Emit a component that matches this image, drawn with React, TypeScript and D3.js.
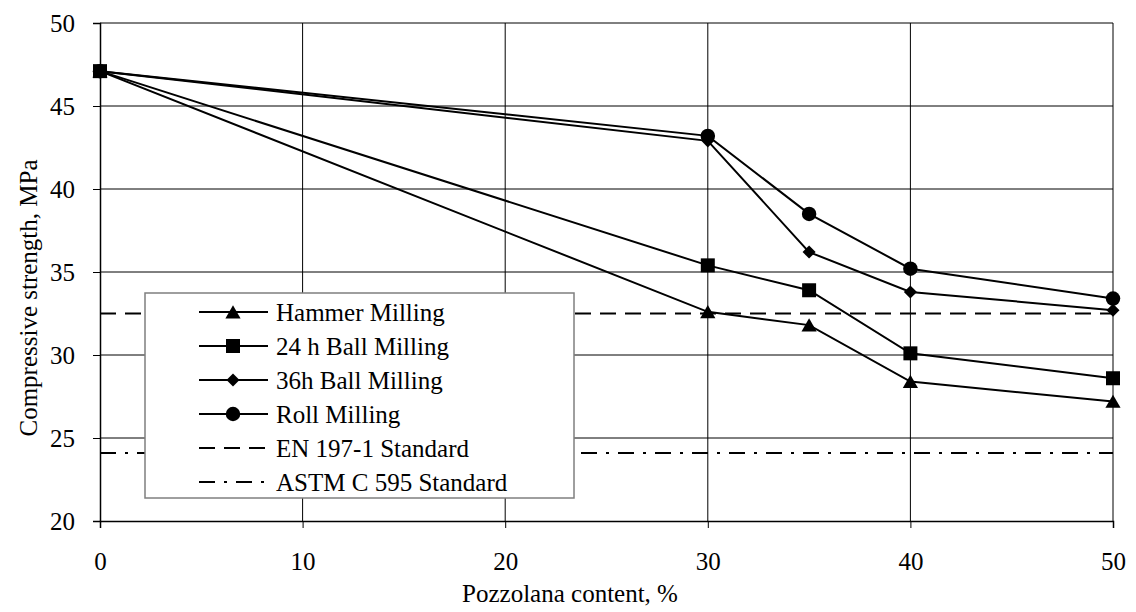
import { useEffect, useRef } from 'react';
import * as d3 from 'd3';

const xValues = [0, 30, 35, 40, 50];
const hammer = [47.1, 32.6, 31.8, 28.4, 27.2];
const ball24 = [47.1, 35.4, 33.9, 30.1, 28.6];
const ball36 = [47.1, 42.9, 36.2, 33.8, 32.7];
const roll = [47.1, 43.2, 38.5, 35.2, 33.4];
const enStandard = 32.5;
const astmStandard = 24.1;
const xTicks = [0, 10, 20, 30, 40, 50];
const yTicks = [20, 25, 30, 35, 40, 45, 50];

const seriesNames = ['Hammer Milling', '24 h Ball Milling', '36h Ball Milling', 'Roll Milling'];
const seriesValues = [hammer, ball24, ball36, roll];
const seriesMarkers = ['triangle', 'square', 'diamond', 'circle'];

export default function App() {
  const svgRef = useRef<SVGSVGElement>(null);

  useEffect(() => {
    if (!svgRef.current) return;
    const W = 1136, H = 612;
    const margin = { top: 23, right: 23, bottom: 91, left: 100 };
    const width = W - margin.left - margin.right;
    const height = H - margin.top - margin.bottom;

    const svg = d3.select(svgRef.current).attr('width', W).attr('height', H);
    svg.selectAll('*').remove();
    const g = svg.append('g').attr('transform', `translate(${margin.left},${margin.top})`);

    const x = d3.scaleLinear().domain([0, 50]).range([0, width]);
    const y = d3.scaleLinear().domain([20, 50]).range([height, 0]);

    // grid
    g.append('g')
      .selectAll('line')
      .data(yTicks.slice(1))
      .enter().append('line')
      .attr('x1', 0).attr('x2', width)
      .attr('y1', d => y(d)).attr('y2', d => y(d))
      .attr('stroke', '#000').attr('stroke-width', 1);
    g.append('g')
      .selectAll('line')
      .data(xTicks.slice(1))
      .enter().append('line')
      .attr('y1', 0).attr('y2', height)
      .attr('x1', d => x(d)).attr('x2', d => x(d))
      .attr('stroke', '#000').attr('stroke-width', 1);

    // axes
    g.append('g')
      .attr('transform', `translate(0,${height})`)
      .call(d3.axisBottom(x).tickValues(xTicks).tickSize(7).tickPadding(24).tickFormat(d => String(d)))
      .attr('font-family', null).attr('font-size', null)
      .call(gg => gg.select('.domain').attr('stroke', '#000').attr('stroke-width', 1.5))
      .call(gg => gg.selectAll('.tick line').attr('stroke', '#000'))
      .call(gg => gg.selectAll('text').attr('fill', '#000'));

    g.append('g')
      .call(d3.axisLeft(y).tickValues(yTicks).tickSize(7).tickPadding(18).tickFormat(d => String(d)))
      .attr('font-family', null).attr('font-size', null)
      .call(gg => gg.select('.domain').attr('stroke', '#000').attr('stroke-width', 1.5))
      .call(gg => gg.selectAll('.tick line').attr('stroke', '#000'))
      .call(gg => gg.selectAll('text').attr('fill', '#000'));

    // standards
    g.append('line')
      .attr('x1', 0).attr('x2', width)
      .attr('y1', y(enStandard)).attr('y2', y(enStandard))
      .attr('stroke', '#000').attr('stroke-width', 2).attr('stroke-dasharray', '16,9');
    g.append('line')
      .attr('x1', 0).attr('x2', width)
      .attr('y1', y(astmStandard)).attr('y2', y(astmStandard))
      .attr('stroke', '#000').attr('stroke-width', 2).attr('stroke-dasharray', '16,9,3,9');

    const symbolFor = (m: string) => {
      if (m === 'triangle') return d3.symbol().type(d3.symbolTriangle).size(100)();
      if (m === 'square') return d3.symbol().type(d3.symbolSquare).size(196)();
      if (m === 'diamond') return d3.symbol().type(d3.symbolSquare).size(85)();
      return d3.symbol().type(d3.symbolCircle).size(165)();
    };
    const rot = (m: string) => (m === 'diamond' ? ' rotate(45)' : '');
    const dy = (m: string) => (m === 'triangle' ? 2 : 0);

    const line = d3.line<number>().x((_, i) => x(xValues[i])).y(d => y(d));

    seriesValues.forEach((vals, si) => {
      const m = seriesMarkers[si];
      g.append('path')
        .attr('d', line(vals))
        .attr('fill', 'none').attr('stroke', '#000').attr('stroke-width', 2);
      g.append('g')
        .selectAll('path')
        .data(vals)
        .enter().append('path')
        .attr('d', symbolFor(m))
        .attr('transform', (d, i) => `translate(${x(xValues[i])},${y(d) + dy(m)})${rot(m)}`)
        .attr('fill', '#000');
    });

    // legend
    const lg = svg.append('g').attr('transform', 'translate(145,293)');
    lg.append('rect')
      .attr('width', 429).attr('height', 205)
      .attr('fill', '#fff').attr('stroke', '#7f7f7f').attr('stroke-width', 1.5);
    const rows = [...seriesNames, 'EN 197-1 Standard', 'ASTM C 595 Standard'];
    rows.forEach((name, i) => {
      const ry = 19 + i * 34;
      const row = lg.append('g').attr('transform', `translate(0,${ry})`);
      const ln = row.append('line')
        .attr('x1', 54).attr('x2', 123).attr('y1', 0).attr('y2', 0)
        .attr('stroke', '#000').attr('stroke-width', 2);
      if (i === 4) ln.attr('stroke-dasharray', '16,9');
      if (i === 5) ln.attr('stroke-dasharray', '16,9,3,9');
      if (i < 4) {
        const m = seriesMarkers[i];
        row.append('path')
          .attr('d', symbolFor(m))
          .attr('transform', `translate(88,${dy(m)})${rot(m)}`)
          .attr('fill', '#000');
      }
      row.append('text')
        .attr('x', 131).attr('y', 0).attr('dy', '0.35em')
        .attr('fill', '#000')
        .text(name);
    });

    // titles
    svg.append('text')
      .attr('x', 570).attr('y', 602)
      .attr('text-anchor', 'middle')
      .attr('fill', '#000')
      .text('Pozzolana content, %');
    svg.append('text')
      .attr('transform', `translate(37,298) rotate(-90)`)
      .attr('text-anchor', 'middle')
      .attr('fill', '#000')
      .text('Compressive strength, MPa');
  }, []);

  return (
    <div style={{ position: 'fixed', left: 0, top: 0, width: 1136, height: 612, background: '#fff' }}>
      <svg ref={svgRef} style={{ display: 'block', fontFamily: "'Liberation Serif'", fontSize: 25 }} />
    </div>
  );
}
